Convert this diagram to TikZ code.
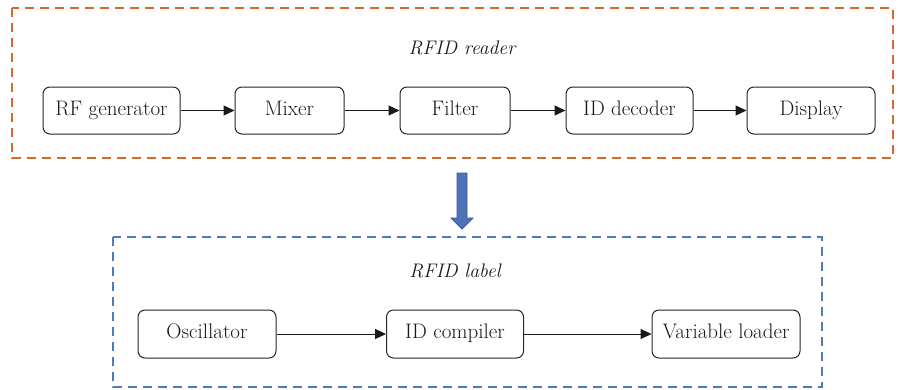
\documentclass[tikz,border=0pt]{standalone}
\usetikzlibrary{arrows.meta}
\definecolor{readerorange}{HTML}{D9692A}
\definecolor{labelblue}{HTML}{4A7EBB}
\definecolor{arrowfill}{HTML}{4F72B8}
\definecolor{arrowedge}{HTML}{3B5A9A}
\begin{document}
\begin{tikzpicture}[x=1pt,y=-1pt,
  blockbox/.style={draw=black!85, line width=1pt, rounded corners=7pt, inner sep=0pt,
    text height=14pt, text depth=4.5pt, text=black!90,
    font=\fontsize{21}{24}\selectfont},
  flow/.style={-{Triangle[length=11pt,width=10pt]}, line width=1pt, black!90},
  frame/.style={dash pattern=on 9pt off 6pt, line width=1.1pt},
  title/.style={text=black!90, font=\fontsize{19.6}{24}\selectfont\itshape}]
\useasboundingbox (0,0) rectangle (902,389);
% RFID reader group
\draw[frame, readerorange] (12,8) rectangle (893,158);
\node[title] (rt) at (462,48) {RFID reader};
\node[blockbox, minimum width=137pt, minimum height=47pt] (rf) at (111.5,110.5) {RF generator};
\node[blockbox, minimum width=109pt, minimum height=47pt] (mx) at (289.5,110.5) {Mixer};
\node[blockbox, minimum width=110pt, minimum height=47pt] (fl) at (455,110.5) {Filter};
\node[blockbox, minimum width=127pt, minimum height=47pt] (dc) at (629.5,110.5) {ID decoder};
\node[blockbox, minimum width=128pt, minimum height=47pt] (dp) at (811,110.5) {Display};
\draw[flow] (rf) -- (mx);
\draw[flow] (mx) -- (fl);
\draw[flow] (fl) -- (dc);
\draw[flow] (dc) -- (dp);
% block arrow between groups
\draw[fill=arrowfill, draw=arrowedge, line width=0.8pt, line join=miter]
  (457,173) -- (467,173) -- (467,218) -- (473,218) -- (462,229) -- (451,218) -- (457,218) -- cycle;
% RFID label group
\draw[frame, labelblue] (113,237) rectangle (822,387);
\node[title] (lt) at (455,271) {RFID label};
\node[blockbox, minimum width=138pt, minimum height=48pt] (os) at (207,334) {Oscillator};
\node[blockbox, minimum width=137pt, minimum height=48pt] (ic) at (455,334) {ID compiler};
\node[blockbox, minimum width=148pt, minimum height=48pt] (vl) at (726,334) {Variable loader};
\draw[flow] (os) -- (ic);
\draw[flow] (ic) -- (vl);
\end{tikzpicture}
\end{document}
